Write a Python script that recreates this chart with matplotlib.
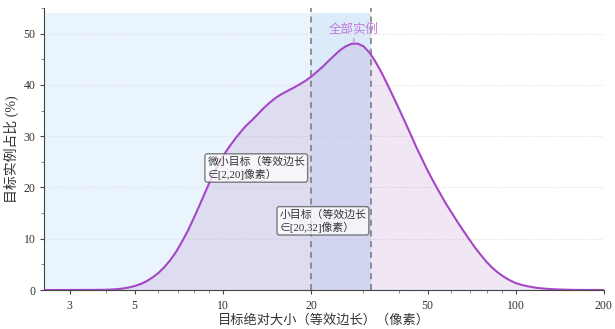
import numpy as np
import matplotlib
matplotlib.use("Agg")
import matplotlib.pyplot as plt
from matplotlib.ticker import FixedLocator, LogLocator, NullFormatter, MultipleLocator

# 等效边长 (像素)
size_px = [2.45, 3.0, 3.5,
           3.98, 4.17, 4.37, 4.57, 4.79, 5.01, 5.25, 5.50, 5.75, 6.03,
           6.31, 6.61, 6.92, 7.24, 7.59, 7.94, 8.32, 8.71, 9.12, 9.55,
           10.0, 10.5, 11.0, 11.5, 12.0, 12.6, 13.2, 13.8, 14.5, 15.1,
           15.8, 16.6, 17.4, 18.2, 19.1, 20.0, 20.9, 21.9, 22.9, 24.0,
           25.1, 26.3, 27.5, 28.8, 30.2, 31.6, 33.1, 34.7, 36.3, 38.0,
           39.8, 41.7, 43.7, 45.7, 47.9, 50.1, 52.5, 55.0, 57.5, 60.3,
           63.1, 66.1, 69.2, 72.4, 75.9, 79.4, 83.2, 87.1, 91.2, 95.5,
           100, 105, 110, 115, 120, 126, 132, 138, 145, 151,
           158, 166, 174, 182, 191, 200]
# 对应的实例占比 (%)
ratio_pct = [0.0, 0.005, 0.02,
             0.05, 0.10, 0.18, 0.31, 0.51, 0.80, 1.20, 1.74, 2.45, 3.35,
             4.46, 5.81, 7.44, 9.36, 11.54, 13.94, 16.50, 19.13, 21.69, 24.03,
             26.09, 27.89, 29.46, 30.83, 32.05, 33.18, 34.36, 35.53, 36.61, 37.44,
             38.17, 38.82, 39.43, 40.06, 40.77, 41.59, 42.52, 43.54, 44.63, 45.74,
             46.76, 47.56, 48.03, 48.07, 47.55, 46.38, 44.65, 42.57, 40.31, 37.95,
             35.51, 33.00, 30.45, 27.93, 25.51, 23.21, 21.03, 18.97, 17.02, 15.16,
             13.37, 11.64, 9.97, 8.37, 6.87, 5.51, 4.33, 3.35, 2.55, 1.88,
             1.35, 0.98, 0.72, 0.52, 0.37, 0.26, 0.18, 0.12, 0.08, 0.05,
             0.03, 0.02, 0.01, 0.005, 0.002, 0.0]

x_ticks = [3, 5, 10, 20, 50, 100, 200]
tiny_range = (2.45, 20)
small_range = (20, 32)

plt.rcParams['font.family'] = ['Liberation Serif', 'Noto Sans CJK SC']
plt.rcParams['axes.unicode_minus'] = False

fig = plt.figure(figsize=(6.15, 3.29), dpi=100)
ax = fig.add_axes([0.0715, 0.1185, 0.9105, 0.857])

x = np.array(size_px)
y = np.array(ratio_pct)

# 尺度区间底色
ax.fill_between(tiny_range, 0, 54, color='#d6eafa', alpha=0.5, lw=0, zorder=0)
ax.fill_between(small_range, 0, 54, color='#b9d8f4', alpha=0.5, lw=0, zorder=0)

ax.fill_between(x, 0, y, color='#9b59b6', alpha=0.15, lw=0, zorder=1)
ax.plot(x, y, color='#a347c4', lw=1.5, zorder=3, solid_joinstyle='round')

for v in (20, 32):
    ax.axvline(v, color='#777777', ls=(0, (4, 3)), lw=1.1, zorder=2)

ax.annotate('全部实例', xy=(28.0, 48.4), xytext=(28.0, 50.8),
            ha='center', va='center', fontsize=9, color='#c27ad8',
            arrowprops=dict(arrowstyle='-', color='#c27ad8', lw=0.8,
                            shrinkA=6, shrinkB=0))

box = dict(boxstyle='round,pad=0.22', fc='white', ec='#555555', lw=1.0, alpha=0.75)
ax.text(8.85, 23.8, '微小目标（等效边长\n∈[2,20]像素）', fontsize=7.8,
        ha='left', va='center', color='#333333', bbox=box, zorder=5,
        linespacing=1.2)
ax.text(15.6, 13.5, '小目标（等效边长\n∈[20,32]像素）', fontsize=7.8,
        ha='left', va='center', color='#333333', bbox=box, zorder=5,
        linespacing=1.2)

ax.set_xscale('log')
ax.set_xlim(2.45, 200)
ax.set_ylim(0, 55)
ax.xaxis.set_major_locator(FixedLocator(x_ticks))
ax.set_xticklabels([str(t) for t in x_ticks])
ax.xaxis.set_minor_locator(LogLocator(base=10, subs=np.arange(2, 10)))
ax.xaxis.set_minor_formatter(NullFormatter())
ax.yaxis.set_major_locator(MultipleLocator(10))
ax.yaxis.set_minor_locator(MultipleLocator(5))

ax.grid(axis='y', which='major', color='#dddddd', ls=':', lw=0.8, zorder=0)
ax.set_axisbelow(True)

for s in ('top', 'right'):
    ax.spines[s].set_visible(False)
for s in ('left', 'bottom'):
    ax.spines[s].set_color('#444444')
    ax.spines[s].set_linewidth(0.8)

ax.tick_params(axis='both', which='major', labelsize=8.5, length=3, pad=3,
               colors='#444444', labelcolor='#333333')
ax.tick_params(axis='x', which='major', pad=4)
ax.tick_params(axis='both', which='minor', length=2, colors='#777777')

ax.set_xlabel('目标绝对大小（等效边长）（像素）', fontsize=9.5, color='#333333', labelpad=2)
ax.set_ylabel('目标实例占比 (%)', fontsize=10, color='#333333', labelpad=3)

fig.savefig('out.png', dpi=100)
